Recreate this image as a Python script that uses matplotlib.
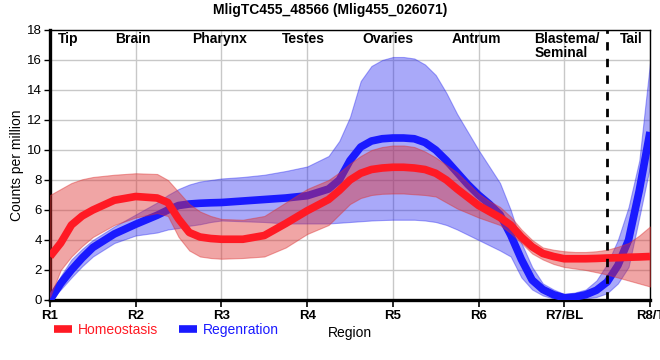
import numpy as np
import matplotlib.pyplot as plt

plt.rcParams['font.family'] = ['Liberation Sans', 'DejaVu Sans']

# positions along the body (R1 = 0 ... R8/T = 7)
x = [0, 0.125, 0.25, 0.375, 0.5, 0.75, 1, 1.25, 1.375, 1.5,
     1.625, 1.75, 1.875, 2, 2.25, 2.5, 2.75, 3, 3.25, 3.375,
     3.5, 3.625, 3.75, 3.875, 4, 4.125, 4.25, 4.375, 4.5, 4.625,
     4.75, 4.875, 5, 5.125, 5.25, 5.375, 5.5, 5.625, 5.75, 5.875,
     6, 6.125, 6.25, 6.375, 6.5, 6.625, 6.75, 6.875, 7]

homeo = [2.9, 3.8, 5.0, 5.6, 6.0, 6.65, 6.9, 6.8, 6.5, 5.4,
         4.5, 4.2, 4.1, 4.05, 4.05, 4.3, 5.1, 5.95, 6.7, 7.3,
         8.0, 8.45, 8.7, 8.8, 8.85, 8.85, 8.8, 8.7, 8.45, 8.0,
         7.4, 6.85, 6.3, 5.9, 5.5, 5.0, 4.2, 3.55, 3.1, 2.9,
         2.75, 2.75, 2.75, 2.77, 2.8, 2.82, 2.85, 2.87, 2.9]
homeo_hi = [7.0, 7.4, 7.8, 8.05, 8.2, 8.35, 8.45, 8.4, 8.0, 7.2,
            6.4, 5.9, 5.6, 5.4, 5.35, 5.6, 6.5, 7.4, 8.0, 8.5,
            9.1, 9.6, 10.0, 10.2, 10.3, 10.3, 10.2, 9.9, 9.5, 9.0,
            8.5, 7.8, 7.1, 6.6, 6.2, 5.55, 4.7, 4.0, 3.5, 3.35,
            3.25, 3.2, 3.2, 3.25, 3.35, 3.55, 3.8, 4.3, 4.9]
homeo_lo = [0.2, 2.0, 2.9, 3.6, 4.2, 5.0, 5.5, 5.8, 5.6, 4.2,
            3.3, 2.9, 2.8, 2.75, 2.8, 2.9, 3.5, 4.4, 5.0, 5.7,
            6.4, 6.8, 7.0, 7.08, 7.1, 7.1, 7.05, 7.0, 6.9, 6.5,
            6.1, 5.8, 5.5, 5.25, 5.0, 4.45, 3.8, 3.1, 2.7, 2.4,
            2.2, 2.1, 2.0, 1.85, 1.7, 1.5, 1.3, 1.1, 0.9]

regen = [0.0, 1.1, 2.0, 2.8, 3.5, 4.4, 5.05, 5.65, 6.0, 6.3,
         6.4, 6.45, 6.48, 6.5, 6.6, 6.7, 6.8, 6.95, 7.4, 8.0,
         9.3, 10.2, 10.6, 10.75, 10.8, 10.8, 10.75, 10.5, 10.0, 9.3,
         8.5, 7.7, 7.0, 6.4, 5.7, 4.33, 2.7, 1.33, 0.7, 0.35,
         0.15, 0.2, 0.35, 0.65, 1.2, 2.3, 4.0, 7.3, 11.2]
regen_hi = [0.2, 1.6, 2.7, 3.4, 4.0, 4.9, 5.7, 6.5, 7.0, 7.4,
            7.7, 7.9, 8.0, 8.1, 8.2, 8.35, 8.6, 8.9, 9.6, 10.6,
            12.2, 14.6, 15.6, 16.0, 16.2, 16.2, 16.1, 15.7, 15.0, 13.8,
            12.4, 11.2, 10.0, 8.9, 7.8, 6.0, 3.8, 2.2, 1.1, 0.7,
            0.4, 0.5, 0.7, 1.3, 2.4, 4.0, 6.2, 9.3, 15.8]
regen_lo = [0.0, 0.7, 1.5, 2.25, 2.9, 3.8, 4.3, 4.5, 4.7, 4.8,
            4.95, 5.05, 5.2, 5.3, 5.25, 5.2, 5.1, 5.1, 5.1, 5.15,
            5.2, 5.25, 5.3, 5.33, 5.35, 5.35, 5.35, 5.3, 5.2, 5.0,
            4.7, 4.35, 4.0, 3.65, 3.3, 2.9, 1.5, 0.7, 0.3, 0.1,
            0.0, 0.0, 0.1, 0.2, 0.45, 1.1, 2.2, 5.5, 8.9]

tick_pos = [0, 1, 2, 3, 4, 5, 6, 7]
tick_labels = ["R1", "R2", "R3", "R4", "R5", "R6", "R7/BL", "R8/T"]
regions = ["Tip", "Brain", "Pharynx", "Testes", "Ovaries", "Antrum", "Blastema/\nSeminal", "Tail"]
region_pos = [0.21, 0.97, 1.98, 2.96, 3.94, 4.98, 5.65, 6.78]

fig = plt.figure(figsize=(6.6, 3.6), dpi=100)
ax = fig.add_axes([50 / 660, 60 / 360, 600 / 660, 270 / 360])

ax.fill_between(x, regen_lo, regen_hi, color="#1e1ef0", alpha=0.38, lw=0.8, zorder=2)
ax.plot(x, regen, color="#1a1aff", lw=5.5, solid_capstyle="butt",
        solid_joinstyle="round", zorder=3, label="Regenration")
ax.fill_between(x, homeo_lo, homeo_hi, color="#dd3232", alpha=0.44, lw=0.8, zorder=4)
ax.plot(x, homeo, color="#ff1a24", lw=5.5, solid_capstyle="butt",
        solid_joinstyle="round", zorder=5, label="Homeostasis")

ax.axvline(6.5, color="black", ls=(0, (3, 3)), lw=2, zorder=6)

ax.set_xlim(0, 7)
ax.set_ylim(0, 18)
ax.set_xticks(tick_pos)
ax.set_xticklabels(tick_labels, fontweight="bold", fontsize=9.5)
ax.set_yticks(np.arange(0, 19, 2))
ax.tick_params(axis="y", labelsize=9.5, length=4, width=1, pad=2)
ax.tick_params(axis="x", length=5, width=1.2, pad=2)
ax.grid(True, color="#c8c8c8", lw=1, zorder=0)
ax.set_axisbelow(True)

for side in ["left", "bottom"]:
    ax.spines[side].set_linewidth(2.4)
for side in ["top", "right"]:
    ax.spines[side].set_linewidth(1)

for name, xp in zip(regions, region_pos):
    ha = "left" if "/" in name else "center"
    ax.text(xp, 17.85, name, ha=ha, va="top", fontsize=10, fontweight="bold",
            linespacing=1.0, zorder=7)

ax.set_ylabel("Counts per million", fontsize=10, labelpad=2)
ax.set_xlabel("Region", fontsize=10, labelpad=3)
fig.text(0.5, 0.972, "MligTC455_48566 (Mlig455_026071)", ha="center", va="center",
         fontsize=10, fontweight="bold")

h, l = ax.get_legend_handles_labels()
ax.legend(h[::-1], l[::-1], loc="center left", bbox_to_anchor=(0.082, 0.083),
          bbox_transform=fig.transFigure, ncol=2, frameon=False, fontsize=10,
          handlelength=1.3, handletextpad=0.4, columnspacing=1.5,
          labelcolor="linecolor", borderaxespad=0, borderpad=0)

plt.savefig("out.png", dpi=100)
